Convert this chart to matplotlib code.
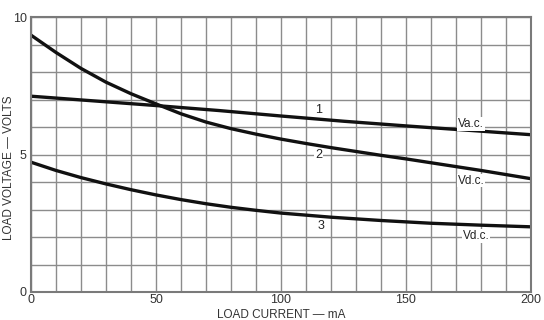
import matplotlib
matplotlib.use("Agg")
import matplotlib.pyplot as plt
from matplotlib.ticker import MultipleLocator

# ---- data ----
current_1 = [0, 25, 50, 75, 100, 125, 150, 175, 200]
vac_1 = [7.12, 6.95, 6.78, 6.60, 6.40, 6.21, 6.04, 5.88, 5.72]

current_2 = [0, 10, 20, 30, 40, 50, 60, 70, 80, 90, 100, 110, 120, 130,
             140, 150, 160, 170, 180, 190, 200]
vdc_2 = [9.34, 8.71, 8.13, 7.63, 7.21, 6.84, 6.48, 6.18, 5.94, 5.74, 5.56,
         5.40, 5.25, 5.11, 4.97, 4.84, 4.70, 4.56, 4.42, 4.27, 4.12]

current_3 = [0, 10, 20, 30, 40, 50, 60, 70, 80, 90, 100, 120, 140, 160,
             180, 200]
vdc_3 = [4.72, 4.42, 4.16, 3.93, 3.72, 3.53, 3.36, 3.21, 3.08, 2.97, 2.87,
         2.72, 2.60, 2.50, 2.43, 2.37]

x_ticks = [0, 50, 100, 150, 200]
y_ticks = [0, 5, 10]

curve_labels = ["1", "2", "3"]
curve_label_pos = [(115, 6.62), (115, 4.97), (116, 2.40)]
end_labels = ["Va.c.", "Vd.c.", "Vd.c."]
end_label_pos = [(176, 6.12), (176, 4.05), (178, 2.03)]

plt.rcParams['font.family'] = ['Liberation Sans', 'DejaVu Sans']

fig = plt.figure(figsize=(5.44, 3.20), dpi=100)
ax = fig.add_axes([31 / 544, 1 - 292 / 320, 500 / 544, 275 / 320])

ax.set_xlim(0, 200)
ax.set_ylim(0, 10)
ax.xaxis.set_minor_locator(MultipleLocator(10))
ax.yaxis.set_minor_locator(MultipleLocator(1))
ax.set_xticks(x_ticks)
ax.set_yticks(y_ticks)
ax.grid(which='both', color='#8c8c8c', linewidth=1.0)
ax.set_axisbelow(True)
ax.tick_params(which='both', length=0, labelsize=9, colors='#333333')
ax.tick_params(axis='x', pad=1.5)
ax.tick_params(axis='y', pad=3)
for s in ax.spines.values():
    s.set_color('#7a7a7a')
    s.set_linewidth(1.5)

lc = '#111111'
ax.plot(current_1, vac_1, color=lc, linewidth=2.4, solid_capstyle='butt')
ax.plot(current_2, vdc_2, color=lc, linewidth=2.4, solid_capstyle='butt')
ax.plot(current_3, vdc_3, color=lc, linewidth=2.4, solid_capstyle='butt')

bb = dict(facecolor='white', edgecolor='none', pad=0.6)
for t, (x, y) in zip(curve_labels, curve_label_pos):
    ax.text(x, y, t, fontsize=9, ha='center', va='center', color='#222222', bbox=bb)
for t, (x, y) in zip(end_labels, end_label_pos):
    ax.text(x, y, t, fontsize=8.5, ha='center', va='center', color='#222222', bbox=bb)

ax.set_xlabel("LOAD CURRENT \u2014 mA", fontsize=8.5, color='#333333')
ax.xaxis.set_label_coords(0.5, -0.06)
ax.set_ylabel("LOAD VOLTAGE \u2014 VOLTS", fontsize=8.5, color='#333333')
ax.yaxis.set_label_coords(-0.032, 0.45)

fig.savefig("out.png", dpi=100, facecolor='white')
